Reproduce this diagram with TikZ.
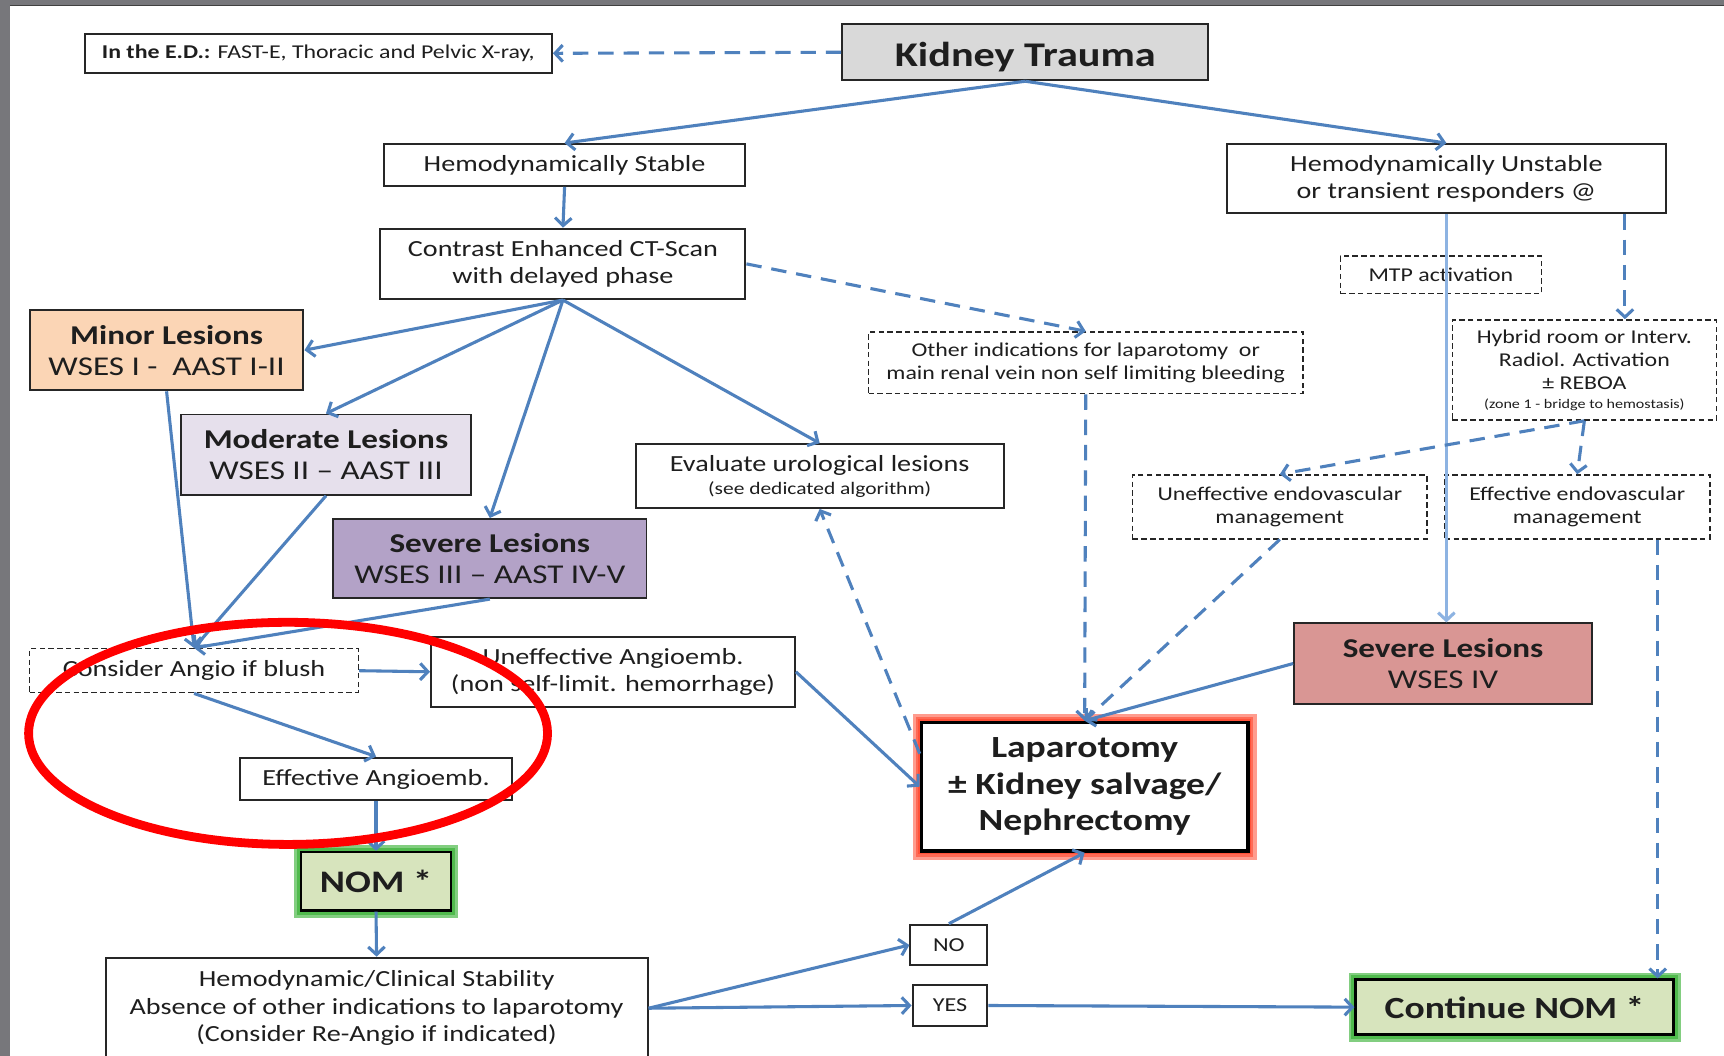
\documentclass[tikz,border=0pt]{standalone}
\usepackage{fontspec}
\setmainfont{Carlito}[FakeStretch=1.22]
\usetikzlibrary{arrows.meta,calc}
\definecolor{conn}{HTML}{4F81BD}
\definecolor{lightconn}{HTML}{8DB3E2}
\definecolor{slidegray}{HTML}{77777B}
\definecolor{ktgray}{HTML}{D9D9D9}
\definecolor{minorc}{HTML}{FBD5B5}
\definecolor{modc}{HTML}{E6E0EC}
\definecolor{sevthree}{HTML}{B3A2C7}
\definecolor{sevfour}{HTML}{D99694}
\definecolor{nomc}{HTML}{D7E4BD}
\definecolor{glowred}{HTML}{FF3A1E}
\definecolor{glowgreen}{HTML}{2FAE2C}
\definecolor{txt}{HTML}{1E1E1E}
\begin{document}
\begin{tikzpicture}[x=1pt,y=-1pt,
  box/.style={draw=black!85, line width=1.8pt, fill=white, inner sep=0pt, align=center, text=txt},
  dbox/.style={draw=black!85, line width=1.4pt, dash pattern=on 5pt off 3pt, fill=white, inner sep=0pt, align=center, text=txt},
  fa/.style={font=\fontsize{17.8}{21}\selectfont},
  fb/.style={font=\fontsize{17.8}{21}\selectfont},
  fc/.style={font=\fontsize{21}{25}\selectfont},
  fd/.style={font=\fontsize{24.7}{28}\selectfont},
  fe/.style={font=\fontsize{28}{33}\selectfont\bfseries},
  arr/.style={draw=conn, line width=2.8pt, -{Straight Barb[length=7pt,width=15pt]}},
  darr/.style={arr, dash pattern=on 14pt off 9pt},
  glowR/.style={draw=glowred, line width=#1, opacity=0.5},
  glowG/.style={draw=glowgreen, line width=#1, opacity=0.6}
]
\useasboundingbox (0,0) rectangle (1568,960);
\fill[slidegray] (0,0) rectangle (1568,960);
\fill[white] (9,5) rectangle (1568,960);
\draw[black!75, line width=1.2pt] (9,5) -- (1568,5);
\clip (0,0) rectangle (1568,960);

% glows
\draw[glowR=16pt] (838,657) rectangle (1135,774);
\draw[glowR=10pt] (838,657) rectangle (1135,774);
\draw[glowR=6pt] (838,657) rectangle (1135,774);
\draw[glowG=13pt] (274,775) rectangle (410,828);
\draw[glowG=8pt] (274,775) rectangle (410,828);
\draw[glowG=13pt] (1233,891) rectangle (1522,941);
\draw[glowG=8pt] (1233,891) rectangle (1522,941);

% nodes
\node[box, fa, minimum width=425pt, minimum height=35pt] (ed) at (289.5,48.5) {\textbf{In the E.D.:} FAST-E, Thoracic and Pelvic X-ray,};
\node[box, fill=ktgray, font=\fontsize{31.5}{36}\selectfont\bfseries, text height=26pt, text depth=0pt, minimum width=333pt, minimum height=51pt] (kt) at (932.5,47.5) {Kidney Trauma};
\node[box, fc, minimum width=329pt, minimum height=38pt] (hs) at (513.5,150) {Hemodynamically Stable};
\node[box, fc, minimum width=399pt, minimum height=63pt] (hu) at (1315.5,162.5) {Hemodynamically Unstable\\or transient responders @};
\node[box, fc, minimum width=332pt, minimum height=64pt] (ct) at (512,240) {Contrast Enhanced CT-Scan\\with delayed phase};
\node[dbox, fb, minimum width=183pt, minimum height=34pt] (mtp) at (1310.5,250) {MTP activation};
\node[box, fill=minorc, fd, minimum width=249pt, minimum height=73pt] (minor) at (151.5,318.5) {\textbf{Minor Lesions}\\WSES I -\ \ AAST I-II};
\node[dbox, fa, minimum width=395pt, minimum height=56pt] (other) at (987.5,330) {Other indications for laparotomy\ \ or\\main renal vein non self limiting bleeding};
\node[dbox, fa, minimum width=240pt, minimum height=91pt] (hy) at (1441,336.5) {Hybrid room or Interv.\\Radiol. Activation\\± REBOA\\[-4pt]{\fontsize{12}{14}\selectfont (zone 1 - bridge to hemostasis)}};
\node[box, fill=modc, fd, minimum width=263pt, minimum height=73pt] (mod) at (296.5,413.5) {\textbf{Moderate Lesions}\\WSES II – AAST III};
\node[box, fc, minimum width=335pt, minimum height=58pt] (eval) at (745.5,433) {Evaluate urological lesions\\[-4pt]{\fontsize{16}{18}\selectfont (see dedicated algorithm)}};
\node[dbox, fb, minimum width=268pt, minimum height=58pt] (unendo) at (1164,461) {Uneffective endovascular\\management};
\node[dbox, fb, minimum width=241pt, minimum height=58pt] (effendo) at (1434.5,461) {Effective endovascular\\management};
\node[box, fill=sevthree, fd, minimum width=285pt, minimum height=72pt] (sev3) at (445.5,508) {\textbf{Severe Lesions}\\WSES III – AAST IV-V};
\node[box, fill=sevfour, fd, minimum width=271pt, minimum height=73pt] (sev4) at (1312.5,603.5) {\textbf{Severe Lesions}\\WSES IV};
\node[dbox, fc, minimum width=299pt, minimum height=40pt] (ca) at (176.5,610) {Consider Angio if blush};
\node[box, fc, minimum width=331pt, minimum height=64pt] (ua) at (557.5,611) {Uneffective Angioemb.\\(non self-limit. hemorrhage)};
\node[box, fc, minimum width=248pt, minimum height=39pt] (ea) at (342,708.5) {Effective Angioemb.};
\node[box, fe, line width=3pt, draw=black, minimum width=297pt, minimum height=117pt] (lap) at (986.5,715.5) {Laparotomy\\± Kidney salvage/\\Nephrectomy};
\node[box, fill=nomc, font=\fontsize{28.5}{32}\selectfont\bfseries, draw=black, line width=2.2pt, minimum width=136pt, minimum height=53pt] (nom) at (342,801.5) {NOM *};
\node[box, font=\fontsize{18}{22}\selectfont, minimum width=70pt, minimum height=37pt] (no) at (863,859.5) {NO};
\node[box, font=\fontsize{18}{22}\selectfont, minimum width=68pt, minimum height=37pt] (yes) at (864,914.5) {YES};
\node[box, font=\fontsize{21}{25}\selectfont, minimum width=493pt, minimum height=92pt] (hcs) at (342.5,917) {Hemodynamic/Clinical Stability\\Absence of other indications to laparotomy\\(Consider Re-Angio if indicated)};
\node[box, fill=nomc, font=\fontsize{28}{32}\selectfont\bfseries, draw=black, line width=2.2pt, minimum width=289pt, minimum height=50pt] (cnom) at (1377.5,916) {Continue NOM *};

% connectors
\draw[arr] (kt.south) -- (hs.north);
\draw[arr] (kt.south) -- (hu.north);
\draw[darr] (kt.west) -- (ed.east);
\draw[arr] (hs.south) -- (ct.north);
\draw[darr] (ct.east) -- (other.north);
\draw[arr] (ct.south) -- (minor.east);
\draw[arr] (ct.south) -- (mod.north);
\draw[arr] (ct.south) -- (sev3.north);
\draw[arr] (ct.south) -- (eval.north);
\draw[arr] (minor.south) -- (ca.north);
\draw[arr] (mod.south) -- (ca.north);
\draw[arr] (sev3.south) -- (ca.north);
\draw[arr] (ca.east) -- (ua.west);
\draw[arr] (ca.south) -- (ea.north);
\draw[arr] (ea.south) -- (nom.north);
\draw[arr] (nom.south) -- (hcs.north);
\draw[arr] (hcs.east) -- (no.west);
\draw[arr] (hcs.east) -- (yes.west);
\draw[arr] (yes.east) -- (cnom.west);
\draw[arr] (no.north) -- (lap.south);
\draw[arr] (ua.east) -- (lap.west);
\coordinate (lapnw) at ($(lap.north west)+(0,30)$);
\draw[darr] (lapnw) -- (eval.south);
\draw[darr] (other.south) -- (lap.north);
\draw[darr] (unendo.south) -- (lap.north);
\draw[arr] (sev4.west) -- (lap.north);
\draw[arr, draw=lightconn] (hu.south) -- (hu.south |- sev4.north);
\coordinate (hub) at ($(hu.south east)+(-38,0)$);
\draw[darr] (hub) -- (hub |- hy.north);
\draw[darr] (hy.south) -- (unendo.north);
\draw[darr] (hy.south) -- (effendo.north);
\coordinate (eeb) at ($(effendo.south east)+(-48,0)$);
\draw[darr] (eeb) -- (eeb |- cnom.north);

% red highlight
\draw[red, line width=8pt] (262,667) ellipse [x radius=236, y radius=101];
\end{tikzpicture}
\end{document}
